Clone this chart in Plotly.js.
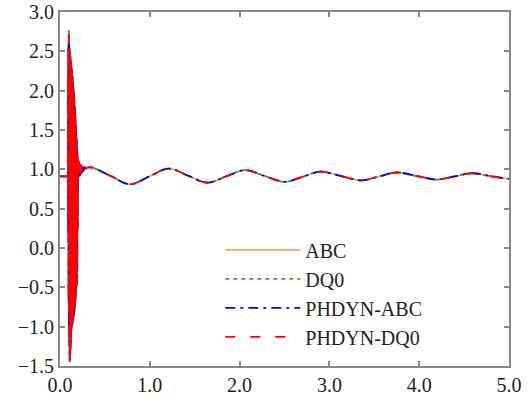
<!DOCTYPE html>
<html>
<head>
<meta charset="utf-8">
<script src="https://cdn.plot.ly/plotly-3.0.1.min.js"></script>
<style>
.js-plotly-plot .main-svg text { font-family: "Liberation Serif", "Times New Roman", serif !important; }
</style>
</head>
<body style="margin:0">
<div id="chart" style="width:532px;height:403px"></div>
<script>
// ---- data ----
var seriesNames = ["ABC", "DQ0", "PHDYN-ABC", "PHDYN-DQ0"];

// pre-disturbance flat segment
var tPre = [0.000, 0.040, 0.080, 0.086, 0.088];
var vPre = [0.91, 0.91, 0.91, 0.91, 0.91];

// fast transient burst
var tBurst = [0.090,0.092,0.094,0.096,0.098,0.100,0.102,0.104,0.106,0.108,
              0.110,0.112,0.114,0.116,0.118,0.120,0.122,0.124,0.126,0.128,
              0.130,0.132,0.134,0.136,0.138,0.140,0.142,0.144,0.146,0.148,
              0.150,0.152,0.154,0.156,0.158,0.160,0.162,0.164,0.166,0.168,
              0.170,0.172,0.174,0.176,0.178,0.180,0.182,0.184,0.186,0.188,
              0.190,0.192,0.194,0.196,0.198,0.200];
var vBurstA = [2.20,0.10,2.60,-0.60,2.77,-1.00,2.65,-1.20,2.55,-1.38,
               2.50,-1.40,2.48,-1.35,2.45,-1.25,2.40,-1.10,2.35,-1.05,
               2.30,-1.00,2.27,-0.97,2.22,-0.95,2.18,-0.92,2.12,-0.90,
               2.06,-0.86,2.00,-0.83,1.93,-0.80,1.87,-0.78,1.80,-0.74,
               1.72,-0.68,1.63,-0.60,1.55,-0.52,1.47,-0.48,1.40,-0.47,
               1.30,-0.30,1.22,0.20,1.10,0.70];
var vBurstB = [2.10,0.20,2.55,-0.70,2.70,-1.05,2.60,-1.25,2.52,-1.44,
               2.45,-1.42,2.40,-1.30,2.38,-1.20,2.35,-1.08,2.30,-1.02,
               2.25,-0.98,2.20,-0.96,2.15,-0.95,2.10,-0.93,2.05,-0.90,
               2.00,-0.88,1.95,-0.84,1.88,-0.80,1.80,-0.77,1.74,-0.72,
               1.66,-0.66,1.58,-0.58,1.50,-0.50,1.42,-0.47,1.35,-0.45,
               1.26,-0.25,1.18,0.25,1.08,0.75];

// settling and slow electromechanical oscillation
var tPost = [0.203,0.206,0.210,0.214,0.218,0.222,0.227,0.232,0.238,0.245,
             0.253,0.262,0.272,0.285,0.300,0.350,0.565,0.780,0.995,1.210,
             1.425,1.640,1.850,2.060,2.280,2.500,2.700,2.900,3.130,3.360,
             3.555,3.750,3.975,4.200,4.395,4.590,4.800,5.000];
var vPost = [1.12,0.88,1.10,0.90,1.08,0.92,1.06,0.94,1.05,0.96,
             1.04,0.98,1.03,1.01,1.02,1.025,0.915,0.810,0.910,1.010,
             0.920,0.830,0.910,0.990,0.915,0.840,0.905,0.970,0.915,0.860,
             0.910,0.960,0.915,0.870,0.910,0.950,0.912,0.878];

var colors = ["#f5a55a", "#3f9f3f", "#0000ff", "#ff0000"];
var dashes = ["solid", "4px,4px", "10px,5px,3px,5px", "10px,15px"];

var tAll = tPre.concat(tBurst, tPost);
var traces = seriesNames.map(function (name, i) {
  var burst = (i < 2) ? vBurstA : vBurstB;
  return {
    x: tAll,
    y: vPre.concat(burst, vPost),
    name: name,
    mode: "lines",
    line: {color: colors[i], dash: dashes[i], width: 1.8, shape: "spline", smoothing: 1}
  };
});

var FAM = "Times New Roman";
Plotly.newPlot("chart", traces, {
  width: 532, height: 403,
  margin: {l: 60, r: 23, t: 12, b: 37},
  font: {family: FAM, size: 20, color: "#222222"},
  legend: {font: {family: FAM, size: 20, color: "#222222"}, itemwidth: 75,
           x: 0.357, y: 0.383, xanchor: "left", yanchor: "top", bgcolor: "rgba(0,0,0,0)"},
  xaxis: {tickfont: {family: FAM, size: 20, color: "#222222"}, tickformat: ".1f",
          range: [0, 5], dtick: 1, tick0: 0, showgrid: false, zeroline: false,
          showline: true, linecolor: "#888888", linewidth: 2, mirror: "ticks",
          ticks: "inside", ticklen: 5, tickwidth: 1.5, tickcolor: "#888888"},
  yaxis: {tickfont: {family: FAM, size: 20, color: "#222222"}, tickformat: ".1f",
          range: [-1.5, 3.0], dtick: 0.5, tick0: 0, showgrid: false, zeroline: false,
          showline: true, linecolor: "#888888", linewidth: 2, mirror: "ticks",
          ticks: "inside", ticklen: 5, tickwidth: 1.5, tickcolor: "#888888"}
}, {displayModeBar: false});
</script>
</body>
</html>
